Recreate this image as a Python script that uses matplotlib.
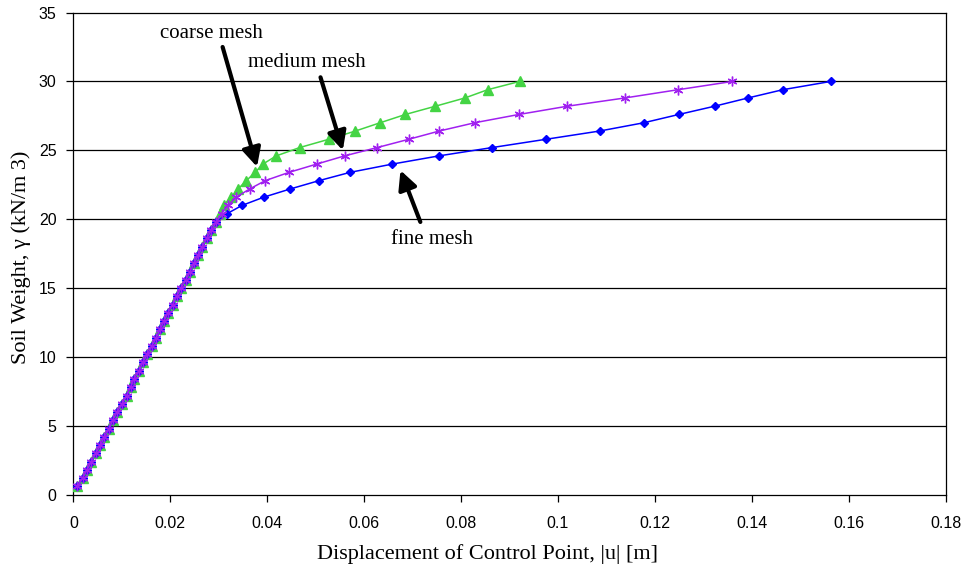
import matplotlib
matplotlib.use('Agg')
import matplotlib.pyplot as plt

# soil weight steps shared by the elastic branch (kN/m3)
gamma_elastic = [0.6, 1.2, 1.8, 2.4, 3.0, 3.6, 4.2, 4.8, 5.4, 6.0, 6.6,
                 7.2, 7.8, 8.4, 9.0, 9.6, 10.2, 10.8, 11.4, 12.0, 12.6,
                 13.2, 13.8, 14.4, 15.0, 15.6, 16.2, 16.8, 17.4, 18.0,
                 18.6, 19.2, 19.8]
disp_elastic = [0.0008, 0.0019, 0.0028, 0.0037, 0.0046, 0.0056, 0.0064,
                0.0074, 0.0081, 0.0090, 0.0101, 0.0110, 0.0118, 0.0125,
                0.0136, 0.0143, 0.0153, 0.0162, 0.0171, 0.0179, 0.0187,
                0.0195, 0.0205, 0.0213, 0.0222, 0.0232, 0.0241, 0.0249,
                0.0258, 0.0266, 0.0275, 0.0285, 0.0295]

# plastic branch, one list per mesh
gamma_plastic = [20.4, 21.0, 21.6, 22.2, 22.8, 23.4, 24.0, 24.6, 25.2,
                 25.8, 26.4, 27.0, 27.6, 28.2, 28.8, 29.4, 30.0]
disp_coarse = [0.0302, 0.0310, 0.0326, 0.0340, 0.0357, 0.0375, 0.0391,
               0.0419, 0.0467, 0.0527, 0.0582, 0.0633, 0.0685, 0.0747,
               0.0808, 0.0855, 0.0921]
disp_medium = [0.0306, 0.0319, 0.0336, 0.0364, 0.0396, 0.0445, 0.0502,
               0.0560, 0.0627, 0.0692, 0.0755, 0.0828, 0.0919, 0.1019,
               0.1138, 0.1248, 0.1360]
disp_fine = [0.0317, 0.0348, 0.0393, 0.0448, 0.0507, 0.0571, 0.0658,
             0.0755, 0.0864, 0.0975, 0.1086, 0.1177, 0.1249, 0.1323,
             0.1392, 0.1464, 0.1563]

x_ticks = [0, 0.02, 0.04, 0.06, 0.08, 0.1, 0.12, 0.14, 0.16, 0.18]
x_tick_labels = ['0', '0.02', '0.04', '0.06', '0.08', '0.1', '0.12',
                 '0.14', '0.16', '0.18']
y_ticks = [0, 5, 10, 15, 20, 25, 30, 35]

gamma = gamma_elastic + gamma_plastic

fig = plt.figure(figsize=(9.65, 5.7), dpi=100)
ax = fig.add_axes([0.076, 0.132, 0.904, 0.846])

# horizontal grid
for yv in y_ticks[1:-1]:
    ax.axhline(yv, color='black', lw=0.9, zorder=1)

ax.plot(disp_elastic + disp_coarse, gamma, color='#44d444', lw=1.1,
        marker='^', ms=6.5, zorder=3)
ax.plot(disp_elastic + disp_fine, gamma, color='#0000ff', lw=1.1,
        marker='D', ms=4.5, zorder=4)
ax.plot(disp_elastic + disp_medium, gamma, color='#a020f0', lw=1.1,
        marker=(6, 2, 0), ms=7, mew=1.0, zorder=5)

ax.set_xlim(0, 0.18)
ax.set_ylim(0, 35)
ax.set_xticks(x_ticks)
ax.set_xticklabels(x_tick_labels)
ax.set_yticks(y_ticks)
for lab in ax.get_xticklabels() + ax.get_yticklabels():
    lab.set_family('Liberation Sans')
    lab.set_fontsize(11.5)
ax.tick_params(direction='out', length=5, width=0.9, pad=10, axis='x')
ax.tick_params(direction='out', length=5, width=0.9, pad=7, axis='y')
for sp in ax.spines.values():
    sp.set_linewidth(0.9)

serif = 'Liberation Serif'
ax.set_xlabel('Displacement of Control Point, |u| [m]', family=serif,
              fontsize=16, labelpad=10)
ax.xaxis.label.set_x(0.4745)
ax.set_ylabel('Soil Weight, γ (kN/m 3)', family=serif, fontsize=16,
              labelpad=6)
ax.yaxis.label.set_y(0.492)

arrow = dict(arrowstyle='-|>', lw=3, color='black', mutation_scale=28,
             shrinkA=0, shrinkB=0)
ax.annotate('', xy=(0.0379, 23.8), xytext=(0.0308, 32.5), arrowprops=arrow)
ax.annotate('', xy=(0.0556, 25.0), xytext=(0.0510, 30.3), arrowprops=arrow)
ax.annotate('', xy=(0.0675, 23.55), xytext=(0.0716, 19.8), arrowprops=arrow)
ax.text(0.0284, 33.45, 'coarse mesh', family=serif, fontsize=15,
        ha='center', va='center')
ax.text(0.0481, 31.4, 'medium mesh', family=serif, fontsize=15,
        ha='center', va='center')
ax.text(0.0741, 18.5, 'fine mesh', family=serif, fontsize=15,
        ha='center', va='center')

fig.savefig('out.png', dpi=100)
